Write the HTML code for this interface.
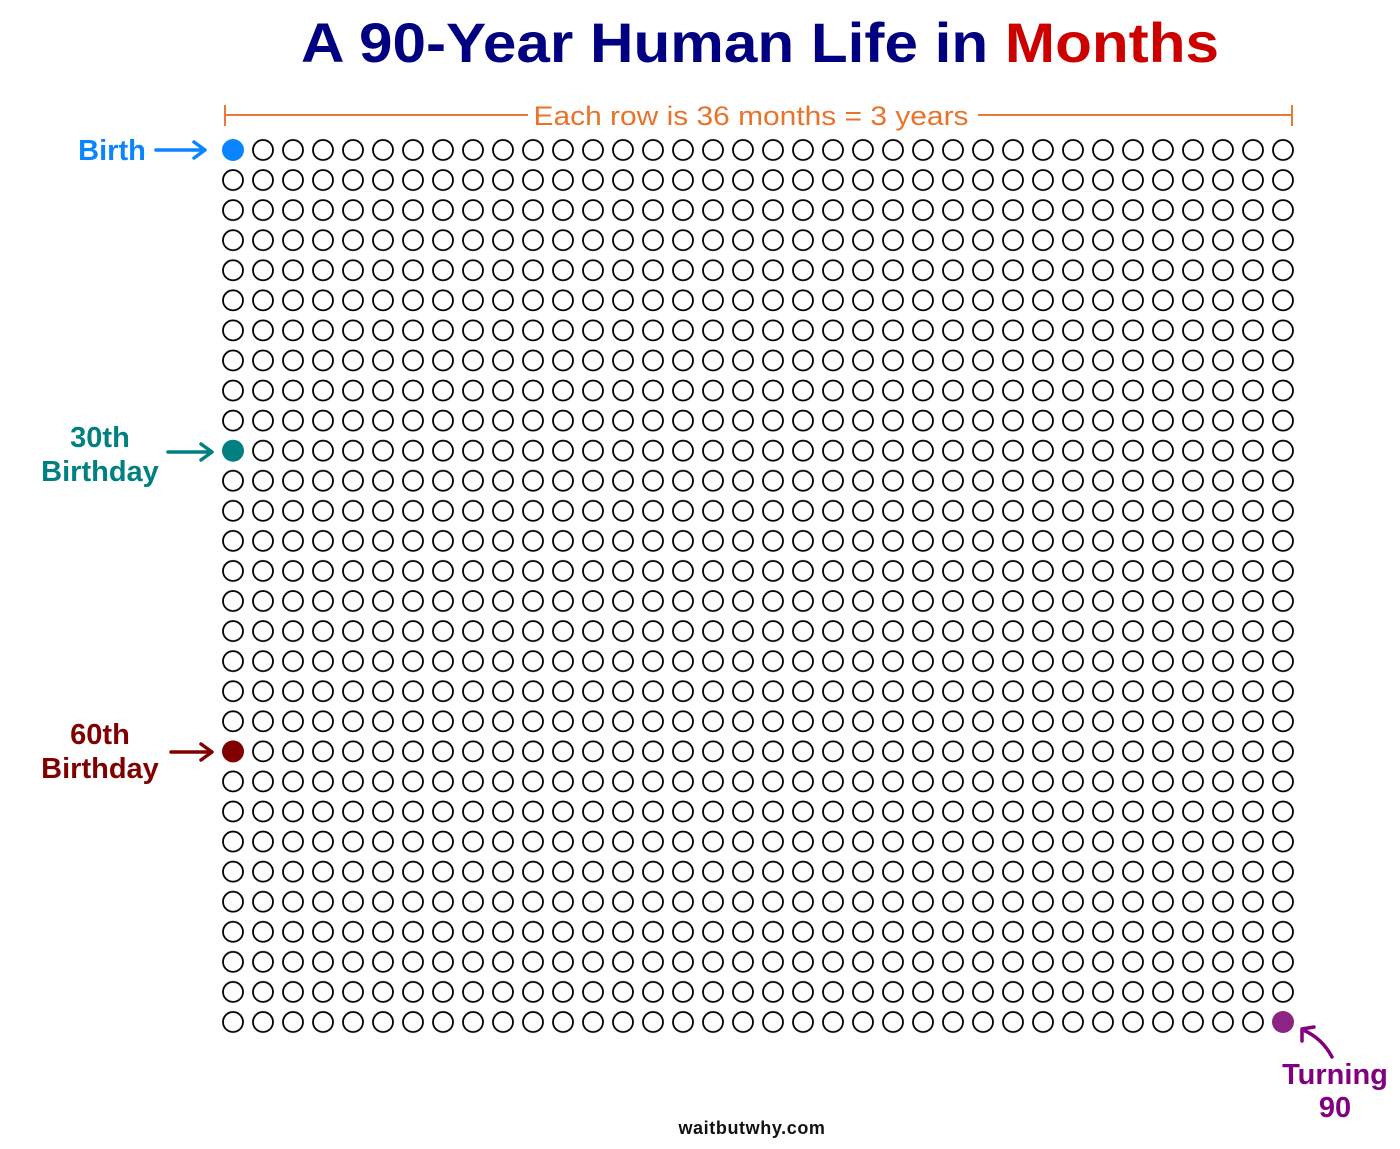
<!DOCTYPE html>
<html><head><meta charset="utf-8"><style>body{margin:0;background:#fff}svg{display:block}</style></head>
<body>
<svg width="1400" height="1149" xmlns="http://www.w3.org/2000/svg" font-family="Liberation Sans, sans-serif">
<defs>
<pattern id="p" patternUnits="userSpaceOnUse" x="218" y="135" width="30" height="30.069">
<circle cx="15" cy="15" r="10" fill="none" stroke="#000" stroke-width="1.8"/>
</pattern>
</defs>
<text x="760" y="62" text-anchor="middle" font-size="56" font-weight="bold" fill="#000080" textLength="918" lengthAdjust="spacingAndGlyphs">A 90-Year Human Life in <tspan fill="#cc0000">Months</tspan></text>
<g stroke="#e8793a" stroke-width="2">
<line x1="225" y1="115" x2="528" y2="115"/><line x1="978" y1="115" x2="1292" y2="115"/>
<line x1="225" y1="105" x2="225" y2="126"/><line x1="1292" y1="105" x2="1292" y2="126"/>
</g>
<text x="751" y="125" text-anchor="middle" font-size="27" fill="#e8732a" textLength="435" lengthAdjust="spacingAndGlyphs">Each row is 36 months = 3 years</text>
<rect x="218" y="135" width="1080" height="902.07" fill="url(#p)"/>
<rect x="220" y="137" width="26" height="26" fill="#fff"/>
<rect x="220" y="437.7" width="26" height="26" fill="#fff"/>
<rect x="220" y="738.4" width="26" height="26" fill="#fff"/>
<rect x="1270" y="1009" width="26" height="26" fill="#fff"/>
<circle cx="233" cy="150" r="11" fill="#0a84ff"/>
<circle cx="233" cy="450.7" r="11" fill="#008080"/>
<circle cx="233" cy="751.4" r="11" fill="#800000"/>
<circle cx="1283" cy="1022" r="11" fill="#8b2484"/>
<g font-weight="bold" font-size="29">
<text x="112" y="160" text-anchor="middle" fill="#0a84ff">Birth</text>
<text x="100" y="447" text-anchor="middle" fill="#008080">30th</text>
<text x="100" y="481" text-anchor="middle" fill="#008080">Birthday</text>
<text x="100" y="744" text-anchor="middle" fill="#800000">60th</text>
<text x="100" y="778" text-anchor="middle" fill="#800000">Birthday</text>
<text x="1335" y="1084" text-anchor="middle" fill="#800080">Turning</text>
<text x="1335" y="1117" text-anchor="middle" fill="#800080">90</text>
</g>
<g fill="none" stroke-width="3.5" stroke-linecap="round" stroke-linejoin="round">
<path d="M156,150 H204 M194,142 L205,150 L194,158" stroke="#0a84ff"/>
<path d="M168,452 H211 M201,444 L212,452 L201,460" stroke="#008080"/>
<path d="M171,752 H211 M201,744 L212,752 L201,760" stroke="#800000"/>
<path d="M1332,1057 Q1322,1038 1303,1030 M1302,1041 L1302,1029 L1314,1027" stroke="#800080"/>
</g>
<text x="752" y="1134" text-anchor="middle" font-size="18" letter-spacing="0.6" font-weight="bold" fill="#111">waitbutwhy.com</text>
</svg>
</body></html>
